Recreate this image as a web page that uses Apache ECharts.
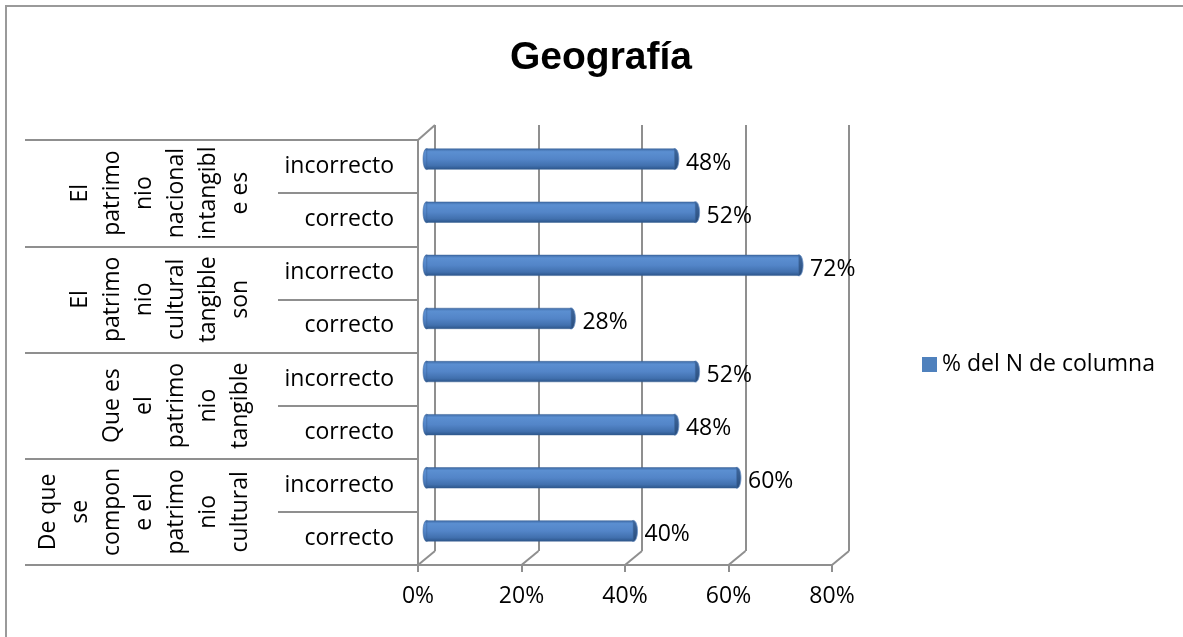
<!DOCTYPE html>
<html>
<head>
<meta charset="utf-8">
<title>Geografía</title>
<script src="https://cdn.jsdelivr.net/npm/echarts@6/dist/echarts.min.js"></script>
<style>
  html, body { margin: 0; padding: 0; background: #fff; }
  #chart { width: 1183px; height: 637px; }
</style>
</head>
<body>
<div id="chart"></div>
<script>
// categories, top to bottom
var groups = [
  'El\npatrimo\nnio\nnacional\nintangibl\ne es',
  'El\npatrimo\nnio\ncultural\ntangible\nson',
  'Que es\nel\npatrimo\nnio\ntangible',
  'De que\nse\ncompon\ne el\npatrimo\nnio\ncultural'
];
var answers = ['incorrecto', 'correcto', 'incorrecto', 'correcto',
               'incorrecto', 'correcto', 'incorrecto', 'correcto'];
var values = [0.48, 0.52, 0.72, 0.28, 0.52, 0.48, 0.60, 0.40];
var xTicks = [0, 0.2, 0.4, 0.6, 0.8];
var seriesName = '% del N de columna';

var FONT = '"Open Sans", "Noto Sans", sans-serif';
var GRAY = '#8f8f8f';
var DX = 17, DY = -14; // depth offset of the 3D frame

function pct(v) { return Math.round(v * 100) + '%'; }

var bodyGrad = new echarts.graphic.LinearGradient(0, 0, 0, 1, [
  { offset: 0, color: '#3d69a4' },
  { offset: 0.15, color: '#5b8fd1' },
  { offset: 0.5, color: '#5385c8' },
  { offset: 0.82, color: '#4170ae' },
  { offset: 1, color: '#2b5488' }
]);
var capGrad = new echarts.graphic.LinearGradient(0, 0, 0, 1, [
  { offset: 0, color: '#3f689e' },
  { offset: 1, color: '#294d7d' }
]);

var chart = echarts.init(document.getElementById('chart'));

var option = {
  animation: false,
  title: {
    text: 'Geografía',
    left: 596,
    top: 34,
    textAlign: 'center',
    textStyle: { fontFamily: '"Liberation Sans", Arial, sans-serif', fontWeight: 'bold', fontSize: 39, color: '#000' }
  },
  legend: {
    data: [{ name: seriesName, itemStyle: { color: '#4f81bd', borderWidth: 0 } }],
    left: 917,
    top: 348,
    icon: 'rect',
    itemWidth: 15,
    itemHeight: 15,
    selectedMode: false,
    textStyle: { fontFamily: FONT, fontSize: 23, color: '#000' }
  },
  graphic: [{
    type: 'polyline',
    shape: { points: [[6, 637], [6, 6], [1183, 6]] },
    style: { stroke: '#9a9a9a', lineWidth: 2, fill: null }
  }],
  grid: [
    // 0: back wall
    { left: 435, top: 125, width: 414, height: 426 },
    // 1: front (axes + labels)
    { left: 418, top: 140, width: 414, height: 425 },
    // 2: bars, mid depth
    { left: 426.5, top: 132.5, width: 414, height: 425 },
    // 3: label table, group rows
    { left: 25, top: 140, width: 393, height: 425 },
    // 4: label table, answer rows
    { left: 278, top: 140, width: 140, height: 425 }
  ],
  xAxis: [
    { gridIndex: 0, type: 'value', min: 0, max: 0.8, interval: 0.2,
      axisLine: { show: false }, axisTick: { show: false }, axisLabel: { show: false },
      splitLine: { show: true, lineStyle: { color: GRAY, width: 2 } } },
    { gridIndex: 1, type: 'value', min: 0, max: 0.8, interval: 0.2,
      axisLine: { show: true, lineStyle: { color: GRAY, width: 2 } },
      axisTick: { show: true, length: 7, lineStyle: { color: GRAY, width: 2 } },
      splitLine: { show: false },
      axisLabel: { formatter: pct, fontFamily: FONT, fontSize: 23, color: '#000', margin: 20 } },
    { gridIndex: 2, type: 'value', min: 0, max: 0.8, show: false },
    { gridIndex: 3, type: 'value', show: false },
    { gridIndex: 4, type: 'value', show: false }
  ],
  yAxis: [
    { gridIndex: 0, type: 'category', data: answers, inverse: true, show: false },
    { gridIndex: 1, type: 'category', data: answers, inverse: true,
      axisLine: { show: true, lineStyle: { color: GRAY, width: 2 } },
      axisTick: { show: false },
      axisLabel: { interval: 0, fontFamily: FONT, fontSize: 23, color: '#000', margin: 24 } },
    { gridIndex: 1, type: 'category', data: groups, inverse: true, position: 'left', offset: 162,
      axisLine: { show: false }, axisTick: { show: false },
      axisLabel: { interval: 0, hideOverlap: false, rotate: 90, margin: 0, align: 'center', verticalAlign: 'bottom',
        fontFamily: FONT, fontSize: 23, lineHeight: 32, color: '#000' } },
    { gridIndex: 2, type: 'category', data: answers, inverse: true, show: false },
    { gridIndex: 3, type: 'category', data: groups, inverse: true,
      axisLine: { show: false }, axisTick: { show: false }, axisLabel: { show: false },
      splitLine: { show: true, interval: 0, lineStyle: { color: GRAY, width: 2 } } },
    { gridIndex: 4, type: 'category', data: answers, inverse: true,
      axisLine: { show: false }, axisTick: { show: false }, axisLabel: { show: false },
      splitLine: { show: true, interval: 0, lineStyle: { color: GRAY, width: 2 } } }
  ],
  series: [
    {
      // floor / top diagonals of the 3D frame
      type: 'custom',
      xAxisIndex: 1,
      yAxisIndex: 1,
      silent: true,
      data: xTicks.map(function (t) { return [t, 0]; }),
      renderItem: function (params, api) {
        var cs = params.coordSys;
        var x = api.coord([api.value(0), 0])[0];
        var bottom = cs.y + cs.height;
        var children = [{
          type: 'line',
          shape: { x1: x, y1: bottom, x2: x + DX, y2: bottom + DY },
          style: { stroke: GRAY, lineWidth: 2 }
        }];
        if (params.dataIndex === 0) {
          children.push({
            type: 'line',
            shape: { x1: x, y1: cs.y, x2: x + DX, y2: cs.y + DY - 1 },
            style: { stroke: GRAY, lineWidth: 2 }
          });
        }
        return { type: 'group', children: children };
      }
    },
    {
      name: seriesName,
      type: 'bar',
      xAxisIndex: 2,
      yAxisIndex: 3,
      data: values,
      barWidth: 21,
      itemStyle: { color: bodyGrad, borderColor: '#3a6396', borderWidth: 0.5 },
      label: {
        show: true,
        position: 'right',
        distance: 11,
        offset: [0, 4],
        formatter: function (p) { return pct(p.value); },
        fontFamily: FONT, fontSize: 23, color: '#000'
      }
    },
    {
      // cylinder end caps
      type: 'custom',
      xAxisIndex: 2,
      yAxisIndex: 3,
      silent: true,
      data: values.map(function (v, i) { return [v, i]; }),
      renderItem: function (params, api) {
        var end = api.coord([api.value(0), api.value(1)]);
        var start = api.coord([0, api.value(1)]);
        return {
          type: 'group',
          children: [
            { type: 'ellipse', shape: { cx: start[0], cy: start[1], rx: 3.5, ry: 10.5 },
              style: { fill: bodyGrad, stroke: '#3a6396', lineWidth: 0.5 } },
            { type: 'ellipse', shape: { cx: end[0], cy: end[1], rx: 4, ry: 10.5 },
              style: { fill: capGrad, stroke: '#6c93c6', lineWidth: 0.8 } }
          ]
        };
      }
    }
  ]
};

chart.setOption(option);
</script>
</body>
</html>
